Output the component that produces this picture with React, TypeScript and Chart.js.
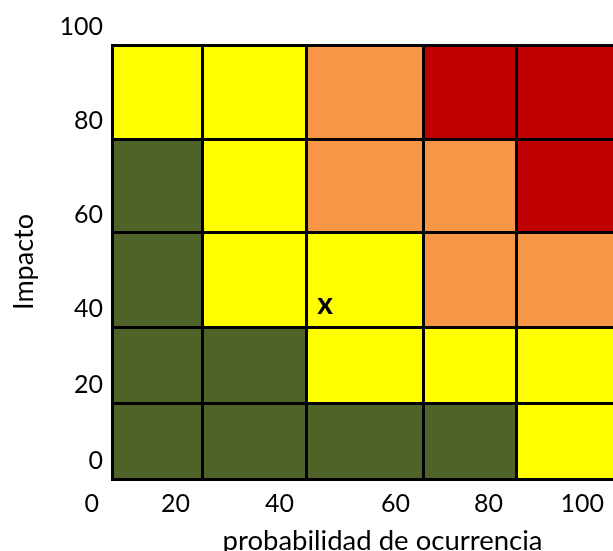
import React, { useEffect, useRef } from 'react';
import { Chart, registerables } from 'chart.js';

Chart.register(...registerables);

// Tick labels shown on the axes
const xTickLabels = ['0', '20', '40', '60', '80', '100'];
const yTickLabels = ['0', '20', '40', '60', '80', '100'];

// Cell boundaries (scale units) for columns and rows
const xEdges = [0, 18.0, 38.6, 61.6, 80.0, 100];
const yEdges = [0, 17.5, 35.0, 56.7, 78.3, 100];

// Risk level per cell: rows bottom->top, columns left->right
// 0 = low (green), 1 = medium (yellow), 2 = high (orange), 3 = extreme (red)
const riskRow1 = [0, 0, 0, 0, 1];
const riskRow2 = [0, 0, 1, 1, 1];
const riskRow3 = [0, 1, 1, 2, 2];
const riskRow4 = [0, 1, 2, 2, 3];
const riskRow5 = [1, 1, 2, 3, 3];
const riskRows = [riskRow1, riskRow2, riskRow3, riskRow4, riskRow5];
const levelColors = ['#4F6228', '#FFFF00', '#F79646', '#C00000'];

// Marked point
const markerX = [42.2];
const markerY = [39.9];
const markerText = 'x';

const xTitle = 'probabilidad de ocurrencia';
const yTitle = 'Impacto';

const FONT = 'Lato, "Open Sans", sans-serif';

const cellsPlugin = {
  id: 'riskCells',
  beforeDraw(chart: any) {
    const { ctx } = chart;
    const xs = chart.scales.x;
    const ys = chart.scales.y;
    ctx.save();
    riskRows.forEach((row, r) => {
      row.forEach((lvl, c) => {
        const x0 = xs.getPixelForValue(xEdges[c]);
        const x1 = xs.getPixelForValue(xEdges[c + 1]);
        const y0 = ys.getPixelForValue(yEdges[r + 1]);
        const y1 = ys.getPixelForValue(yEdges[r]);
        ctx.fillStyle = levelColors[lvl];
        ctx.fillRect(x0, y0, x1 - x0, y1 - y0);
      });
    });
    ctx.restore();
  },
};

const markerPlugin = {
  id: 'markerText',
  afterDatasetsDraw(chart: any) {
    const { ctx } = chart;
    const meta = chart.getDatasetMeta(0);
    ctx.save();
    ctx.font = `bold 30px ${FONT}`;
    ctx.fillStyle = '#000';
    ctx.textAlign = 'center';
    ctx.textBaseline = 'alphabetic';
    meta.data.forEach((el: any) => {
      ctx.fillText(markerText, el.x, el.y + 8);
    });
    ctx.restore();
  },
};

const xTitlePlugin = {
  id: 'xTitle',
  afterDraw(chart: any) {
    const { ctx, chartArea } = chart;
    ctx.save();
    ctx.font = `27.5px ${FONT}`;
    ctx.fillStyle = '#000';
    ctx.textAlign = 'center';
    ctx.textBaseline = 'alphabetic';
    ctx.fillText(xTitle, (chartArea.left + chartArea.right) / 2 + 18, chartArea.bottom + 71);
    ctx.restore();
  },
};

export default function App() {
  const ref = useRef<HTMLCanvasElement>(null);
  useEffect(() => {
    if (!ref.current) return;
    const chart = new Chart(ref.current, {
      type: 'scatter',
      data: {
        datasets: [
          {
            data: markerX.map((x, i) => ({ x, y: markerY[i] })),
            pointRadius: 0,
            showLine: false,
          },
        ],
      },
      options: {
        animation: false,
        responsive: true,
        maintainAspectRatio: false,
        layout: { padding: { top: 37, right: 13, left: 0, bottom: 0 } },
        plugins: { legend: { display: false }, tooltip: { enabled: false } },
        scales: {
          x: {
            type: 'linear',
            min: 0,
            max: 100,
            afterBuildTicks: (s: any) => {
              s.ticks = xEdges.map((v) => ({ value: v }));
            },
            afterFit: (s: any) => {
              s.height = 72;
            },
            ticks: {
              autoSkip: false,
              maxRotation: 0,
              align: 'end',
              labelOffset: -13,
              padding: 10,
              color: '#000',
              font: { family: FONT, size: 25 },
              callback: (_v: any, i: number) => xTickLabels[i],
            },
            grid: { color: '#000', lineWidth: 3, drawTicks: false },
            border: { display: true, color: '#000', width: 3 },
          },
          y: {
            type: 'linear',
            min: 0,
            max: 100,
            afterBuildTicks: (s: any) => {
              s.ticks = yEdges.map((v) => ({ value: v }));
            },
            afterFit: (s: any) => {
              s.width = 104;
            },
            ticks: {
              autoSkip: false,
              labelOffset: -18,
              padding: 9,
              color: '#000',
              font: { family: FONT, size: 25 },
              callback: (_v: any, i: number) => yTickLabels[i],
            },
            grid: { color: '#000', lineWidth: 3, drawTicks: false },
            border: { display: true, color: '#000', width: 3 },
            title: {
              display: true,
              text: yTitle,
              color: '#000',
              padding: 0,
              font: { family: FONT, size: 27 },
            },
          },
        },
      },
      plugins: [cellsPlugin, markerPlugin, xTitlePlugin],
    } as any);
    return () => chart.destroy();
  }, []);

  return (
    <div style={{ position: 'fixed', left: 8, top: 8, width: 605, height: 543, overflow: 'hidden' }}>
      <div style={{ width: 622, height: 543, position: 'relative' }}>
        <canvas ref={ref} />
      </div>
    </div>
  );
}
